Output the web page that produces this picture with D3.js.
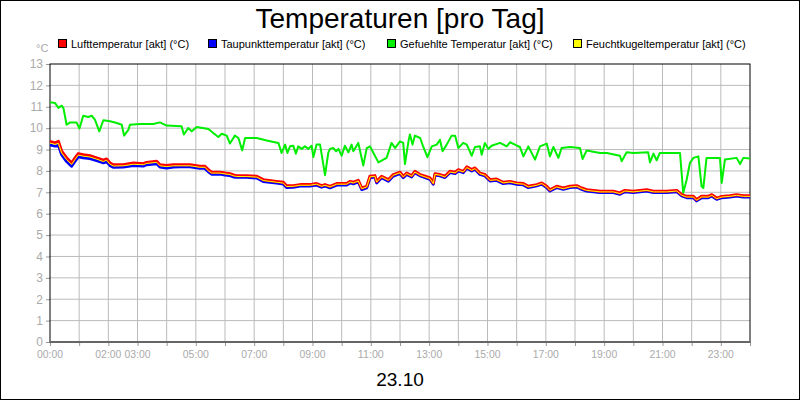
<!DOCTYPE html>
<html><head><meta charset="utf-8">
<script src="https://cdn.jsdelivr.net/npm/d3@7/dist/d3.min.js"></script>
<style>body{margin:0;background:#fff}svg{display:block}</style>
</head><body><svg id="c" width="800" height="400"></svg>
<script>
const title = "Temperaturen [pro Tag]";
const dateLabel = "23.10";
const seriesNames = ["Lufttemperatur [akt] (°C)","Taupunkttemperatur [akt] (°C)","Gefuehlte Temperatur [akt] (°C)","Feuchtkugeltemperatur [akt] (°C)"];
const seriesColors = ["#ff0000","#0000ff","#00ee00","#ffff00"];
const xTickHours = [0,2,3,5,7,9,11,13,15,17,19,21,23];
const xTickLabels = ["00:00","02:00","03:00","05:00","07:00","09:00","11:00","13:00","15:00","17:00","19:00","21:00","23:00"];
const yTicks = [0,1,2,3,4,5,6,7,8,9,10,11,12,13];

const feltHours = [0,0.17,0.29,0.40,0.46,0.57,0.69,0.91,1.01,1.14,1.31,1.43,1.54,1.69,1.83,2.06,2.29,2.46,2.54,2.69,2.74,3.09,3.54,3.77,4.0,4.51,4.59,4.74,4.86,5.03,5.43,5.77,5.89,6.06,6.17,6.34,6.46,6.59,6.69,7.09,7.43,7.83,7.94,8.06,8.14,8.23,8.34,8.43,8.51,8.63,8.74,8.86,8.97,9.03,9.14,9.26,9.43,9.54,9.6,9.71,9.81,9.89,10.0,10.11,10.23,10.34,10.40,10.57,10.74,10.86,10.97,11.09,11.26,11.54,11.71,11.83,12.0,12.11,12.17,12.29,12.34,12.43,12.51,12.69,12.8,12.94,13.09,13.26,13.37,13.46,13.6,13.77,13.89,14.0,14.17,14.29,14.46,14.57,14.74,14.8,14.91,15.03,15.14,15.43,15.66,15.77,15.94,16.11,16.23,16.4,16.63,16.8,17.03,17.14,17.26,17.43,17.54,17.83,18.17,18.26,18.4,18.86,19.09,19.54,19.6,19.77,20.0,20.51,20.57,20.69,20.8,20.91,21.6,21.71,21.83,21.94,22.06,22.23,22.34,22.4,22.51,22.97,23.03,23.14,23.54,23.66,23.77,24.0];
const feltValues = [11.21,11.18,10.95,11.05,10.94,10.16,10.27,10.27,9.98,10.58,10.52,10.58,10.40,9.85,10.37,10.32,10.24,10.16,9.65,9.93,10.16,10.19,10.19,10.27,10.12,10.09,9.70,10.01,9.85,10.05,9.96,9.59,9.74,9.65,9.28,9.65,9.54,8.96,9.54,9.54,9.42,9.31,8.84,9.23,8.84,9.15,9.18,8.81,9.15,9.03,9.15,9.03,9.18,8.65,9.23,9.23,7.80,8.84,9.03,9.07,8.92,9.03,8.71,9.18,8.87,9.23,8.92,9.31,8.25,9.07,9.15,8.84,8.40,8.61,9.31,9.07,9.38,9.31,8.32,9.38,9.70,9.23,9.65,9.54,9.12,8.64,9.15,9.23,9.46,8.92,9.23,9.65,9.65,9.07,9.31,9.23,8.71,9.12,9.15,8.76,9.31,9.03,9.18,9.31,9.15,9.34,9.23,9.12,8.68,9.15,8.53,9.15,9.28,8.68,9.12,8.61,9.07,9.12,9.07,8.56,8.96,8.84,8.84,8.71,8.45,8.87,8.84,8.87,8.40,8.81,8.50,8.84,8.84,6.97,7.60,8.37,8.61,8.68,7.28,7.20,8.61,8.61,7.44,8.53,8.61,8.32,8.61,8.58];

const tHours = [0,0.17,0.29,0.40,0.57,0.74,0.86,0.97,1.14,1.37,1.60,1.83,1.94,2.06,2.17,2.51,2.86,3.2,3.31,3.66,3.77,4.0,4.23,4.46,4.8,5.14,5.31,5.43,5.54,5.83,6.0,6.17,6.29,6.4,6.74,7.09,7.31,7.77,8.0,8.11,8.34,8.57,8.91,9.14,9.31,9.43,9.6,9.83,10.17,10.29,10.4,10.57,10.69,10.86,10.97,11.14,11.2,11.37,11.6,11.77,12.0,12.11,12.23,12.4,12.51,12.69,12.86,13.03,13.14,13.2,13.37,13.54,13.71,13.89,14.0,14.17,14.29,14.46,14.57,14.74,14.91,15.09,15.31,15.54,15.77,16.0,16.23,16.4,16.69,16.86,17.03,17.14,17.37,17.6,17.83,18.06,18.23,18.4,18.86,19.31,19.54,19.71,20.0,20.46,20.69,21.14,21.49,21.66,21.83,22.06,22.17,22.34,22.57,22.69,22.86,23.03,23.31,23.54,23.77,24.0];
const airValues = [9.38,9.31,9.38,8.92,8.61,8.37,8.61,8.81,8.76,8.71,8.61,8.50,8.56,8.37,8.29,8.29,8.37,8.34,8.40,8.45,8.29,8.25,8.29,8.29,8.29,8.22,8.22,8.06,7.94,7.94,7.90,7.87,7.81,7.78,7.78,7.75,7.59,7.51,7.47,7.31,7.31,7.36,7.36,7.41,7.31,7.36,7.28,7.41,7.41,7.51,7.47,7.56,7.20,7.28,7.75,7.78,7.51,7.75,7.59,7.83,7.94,7.75,7.90,7.78,7.98,7.83,7.75,7.67,7.44,7.87,7.83,7.75,7.98,7.94,8.06,7.98,8.19,8.06,8.14,7.90,7.83,7.59,7.62,7.47,7.51,7.44,7.41,7.28,7.36,7.44,7.28,7.12,7.28,7.20,7.28,7.31,7.20,7.12,7.05,7.05,6.97,7.09,7.05,7.12,7.05,7.05,7.09,6.89,6.81,6.81,6.66,6.81,6.81,6.89,6.73,6.81,6.84,6.89,6.84,6.84];
const dewValues = [9.22,9.16,9.20,8.76,8.44,8.22,8.46,8.66,8.62,8.58,8.48,8.38,8.44,8.25,8.17,8.18,8.25,8.23,8.29,8.34,8.18,8.14,8.18,8.19,8.19,8.12,8.12,7.96,7.85,7.85,7.81,7.78,7.72,7.70,7.70,7.67,7.51,7.43,7.39,7.23,7.24,7.29,7.29,7.34,7.24,7.29,7.21,7.34,7.34,7.44,7.40,7.49,7.13,7.21,7.68,7.71,7.44,7.68,7.52,7.76,7.87,7.69,7.84,7.72,7.92,7.77,7.69,7.61,7.38,7.81,7.77,7.69,7.92,7.88,8.00,7.92,8.13,8.00,8.08,7.84,7.77,7.53,7.56,7.41,7.45,7.38,7.35,7.22,7.30,7.38,7.22,7.06,7.22,7.14,7.22,7.25,7.14,7.06,6.99,6.99,6.91,7.03,6.99,7.06,6.99,6.99,7.03,6.83,6.75,6.75,6.60,6.75,6.75,6.83,6.67,6.75,6.78,6.83,6.78,6.78];
const wetValues = [9.30,9.24,9.29,8.84,8.53,8.30,8.54,8.74,8.69,8.65,8.55,8.44,8.50,8.31,8.23,8.24,8.31,8.29,8.35,8.40,8.24,8.20,8.24,8.24,8.24,8.17,8.17,8.01,7.90,7.90,7.86,7.83,7.77,7.74,7.74,7.71,7.55,7.47,7.43,7.27,7.28,7.33,7.33,7.38,7.28,7.33,7.25,7.38,7.38,7.48,7.44,7.53,7.17,7.25,7.72,7.75,7.48,7.72,7.56,7.80,7.91,7.72,7.87,7.75,7.95,7.80,7.72,7.64,7.41,7.84,7.80,7.72,7.95,7.91,8.03,7.95,8.16,8.03,8.11,7.87,7.80,7.56,7.59,7.44,7.48,7.41,7.38,7.25,7.33,7.41,7.25,7.09,7.25,7.17,7.25,7.28,7.17,7.09,7.02,7.02,6.94,7.06,7.02,7.09,7.02,7.02,7.06,6.86,6.78,6.78,6.63,6.78,6.78,6.86,6.70,6.78,6.81,6.86,6.81,6.81];

const svg = d3.select("#c");
const L=50,R=750,T=64,B=342;
const x = d3.scaleLinear().domain([0,24]).range([L,R]);
const y = d3.scaleLinear().domain([0,13]).range([B,T]);
const font = "Liberation Sans, Arial, sans-serif";

svg.append("rect").attr("x",0.5).attr("y",0.5).attr("width",799).attr("height",399).attr("fill","#fff").attr("stroke","#000");
svg.append("text").attr("x",400).attr("y",28).attr("text-anchor","middle").attr("font-family",font).attr("font-size",28).text(title);

// grid
svg.append("g").selectAll("line").data(d3.range(1,24)).join("line")
  .attr("x1",d=>x(d)).attr("x2",d=>x(d)).attr("y1",T).attr("y2",B).attr("stroke","#bbb");
svg.append("g").selectAll("line").data(yTicks.slice(1,-1)).join("line")
  .attr("x1",L).attr("x2",R).attr("y1",d=>y(d)).attr("y2",d=>y(d)).attr("stroke","#bbb");

// axes
const ya = svg.append("g").attr("transform",`translate(${L},0)`).call(d3.axisLeft(y).tickValues(yTicks).tickSize(4).tickFormat(d3.format("d")));
ya.select(".domain").remove();
ya.selectAll("line").attr("stroke","#999");
ya.selectAll("text").attr("fill","#aaa").attr("font-family",font).attr("font-size",12);
const xa = svg.append("g").attr("transform",`translate(0,${B})`).call(d3.axisBottom(x).tickValues(d3.range(0,25)).tickSize(4).tickFormat(""));
xa.select(".domain").remove();
xa.selectAll("line").attr("stroke","#999");
svg.append("g").selectAll("text").data(xTickHours).join("text")
  .attr("x",d=>x(d)).attr("y",B+16).attr("text-anchor","middle").attr("fill","#aaa")
  .attr("font-family",font).attr("font-size",11).attr("textLength",26).attr("lengthAdjust","spacingAndGlyphs")
  .text((d,i)=>xTickLabels[i]);
svg.append("text").attr("x",36).attr("y",52).attr("fill","#aaa").attr("font-family",font).attr("font-size",11).text("°C");

svg.append("rect").attr("x",L).attr("y",T).attr("width",R-L).attr("height",B-T).attr("fill","none").attr("stroke","#000");
svg.append("line").attr("x1",L).attr("x2",R).attr("y1",B).attr("y2",B).attr("stroke","#666").attr("stroke-width",2);

// lines
const line = d3.line().x(d=>x(d[0])).y(d=>y(d[1]));
const clip = svg.append("g");
function draw(hours, vals, color, w){
  clip.append("path").datum(hours.map((h,i)=>[h,vals[i]])).attr("d",line)
    .attr("fill","none").attr("stroke",color).attr("stroke-width",w).attr("stroke-linejoin","round");
}
draw(feltHours, feltValues, seriesColors[2], 2);
draw(tHours, dewValues, seriesColors[1], 3);
draw(tHours, airValues, seriesColors[0], 3);
draw(tHours, wetValues, seriesColors[3], 1);

// legend
const lx = [58,208,387,573];
const lg = svg.append("g").selectAll("g").data(seriesNames).join("g").attr("transform",(d,i)=>`translate(${lx[i]},39)`);
lg.append("rect").attr("x",0.5).attr("y",0.5).attr("width",8).attr("height",8).attr("fill",(d,i)=>seriesColors[i]).attr("stroke","#000");
lg.append("text").attr("x",13).attr("y",9).attr("font-family",font).attr("font-size",11).text(d=>d);

svg.append("text").attr("x",400).attr("y",386).attr("text-anchor","middle").attr("font-family",font).attr("font-size",19).text(dateLabel);
</script></body></html>
